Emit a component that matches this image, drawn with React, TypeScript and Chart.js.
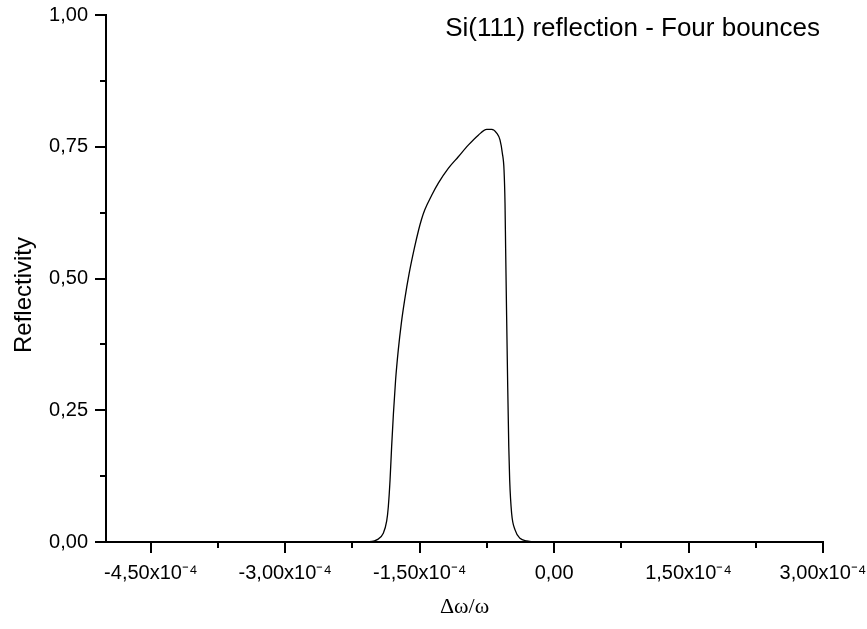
import React, { useEffect, useRef } from "react";
import { Chart, registerables } from "chart.js";

Chart.register(...registerables);

// Δω/ω values
const deltaOmega: number[] = [
  -5.0e-4, -2.6e-4, -2.2e-4, -2.032e-4, -1.98e-4, -1.906e-4, -1.868e-4,
  -1.85e-4, -1.8305e-4, -1.813e-4, -1.793e-4, -1.769e-4, -1.739e-4, -1.705e-4,
  -1.668e-4, -1.617e-4, -1.56e-4, -1.512e-4, -1.48e-4, -1.444e-4, -1.366e-4,
  -1.292e-4, -1.181e-4, -1.069e-4, -0.958e-4, -0.846e-4, -0.752e-4, -0.697e-4,
  -0.641e-4, -0.604e-4, -0.578e-4, -0.559e-4, -0.548e-4, -0.541e-4, -0.531e-4,
  -0.519e-4, -0.506e-4, -0.496e-4, -0.474e-4, -0.436e-4, -0.381e-4, -0.306e-4,
  -0.20e-4, 3.0e-4,
];
// Reflectivity values
const reflectivity: number[] = [
  0, 0, 0, 0.001, 0.004, 0.0165, 0.04,
  0.067, 0.118, 0.181, 0.244, 0.307, 0.364, 0.415,
  0.459, 0.51, 0.557, 0.592, 0.612, 0.63, 0.658,
  0.681, 0.709, 0.731, 0.753, 0.772, 0.783, 0.783,
  0.776, 0.763, 0.738, 0.706, 0.643, 0.557, 0.44,
  0.307, 0.181, 0.118, 0.054, 0.023, 0.007, 0.002,
  0, 0,
];

const xMajorTicks: number[] = [-4.5e-4, -3.0e-4, -1.5e-4, 0, 1.5e-4, 3.0e-4];
const xMinorTicks: number[] = [-3.75e-4, -2.25e-4, -0.75e-4, 0.75e-4, 2.25e-4];
const yMajorTicks: number[] = [0, 0.25, 0.5, 0.75, 1.0];
const yMinorTicks: number[] = [0.125, 0.375, 0.625, 0.875];

const titleText = "Si(111) reflection - Four bounces";
const yAxisTitle = "Reflectivity";
const xAxisTitle = "Δω/ω";

const SANS = "'Liberation Sans', Arial, sans-serif";
const SERIF = "'Liberation Serif', 'Times New Roman', serif";

function fmtX(v: number): string {
  if (Math.abs(v) < 1e-12) return "0,00";
  return (v / 1e-4).toFixed(2).replace(".", ",") + "x10⁻⁴";
}
function fmtY(v: number): string {
  return v.toFixed(2).replace(".", ",");
}

const decorPlugin = {
  id: "decor",
  afterDraw(chart: any) {
    const { ctx, scales, chartArea } = chart;
    const xs = scales.x;
    const ys = scales.y;
    ctx.save();
    ctx.strokeStyle = "#000";
    ctx.lineWidth = 2;
    ctx.beginPath();
    const bottom = chartArea.bottom;
    const left = chartArea.left;
    for (const v of xMajorTicks) {
      const px = Math.round(xs.getPixelForValue(v));
      ctx.moveTo(px, bottom);
      ctx.lineTo(px, bottom + 11);
    }
    for (const v of xMinorTicks) {
      const px = Math.round(xs.getPixelForValue(v));
      ctx.moveTo(px, bottom);
      ctx.lineTo(px, bottom + 6);
    }
    for (const v of yMajorTicks) {
      const py = Math.round(ys.getPixelForValue(v));
      ctx.moveTo(left, py);
      ctx.lineTo(left - 11, py);
    }
    for (const v of yMinorTicks) {
      const py = Math.round(ys.getPixelForValue(v));
      ctx.moveTo(left, py);
      ctx.lineTo(left - 6, py);
    }
    ctx.stroke();

    ctx.fillStyle = "#000";
    // title inside plot
    ctx.font = `26px ${SANS}`;
    ctx.textAlign = "right";
    ctx.textBaseline = "alphabetic";
    ctx.fillText(titleText, 820, 36);

    // y axis title
    ctx.save();
    ctx.translate(31, 295);
    ctx.rotate(-Math.PI / 2);
    ctx.font = `24px ${SANS}`;
    ctx.textAlign = "center";
    ctx.textBaseline = "alphabetic";
    ctx.fillText(yAxisTitle, 0, 0);
    ctx.restore();

    // x axis title
    ctx.font = `22px ${SERIF}`;
    ctx.textAlign = "center";
    ctx.textBaseline = "alphabetic";
    ctx.fillText(xAxisTitle, (chartArea.left + chartArea.right) / 2, 613);
    ctx.restore();
  },
};

export default function App() {
  const ref = useRef<HTMLCanvasElement | null>(null);
  useEffect(() => {
    if (!ref.current) return;
    const chart = new Chart(ref.current, {
      type: "line",
      data: {
        datasets: [
          {
            data: deltaOmega.map((x, i) => ({ x, y: reflectivity[i] })),
            borderColor: "#000",
            borderWidth: 1.3,
            pointRadius: 0,
            cubicInterpolationMode: "monotone",
            fill: false,
          },
        ],
      },
      options: {
        animation: false,
        responsive: false,
        layout: { padding: { top: 15, right: 44, left: 0, bottom: 0 } },
        plugins: { legend: { display: false }, tooltip: { enabled: false }, title: { display: false } },
        scales: {
          x: {
            type: "linear",
            min: -5e-4,
            max: 3e-4,
            afterBuildTicks: (s: any) => {
              s.ticks = xMajorTicks.map((v) => ({ value: v }));
            },
            afterFit: (s: any) => {
              s.height = 87;
              s.paddingLeft = 0;
              s.paddingRight = 0;
            },
            grid: { display: true, drawOnChartArea: false, drawTicks: false },
            border: { display: true, color: "#000", width: 2 },
            ticks: {
              color: "#000",
              font: { family: SANS, size: 20 },
              padding: 19,
              maxRotation: 0,
              autoSkip: false,
              callback: (v: any) => fmtX(Number(v)),
            },
          },
          y: {
            type: "linear",
            min: 0,
            max: 1,
            afterBuildTicks: (s: any) => {
              s.ticks = yMajorTicks.map((v) => ({ value: v }));
            },
            afterFit: (s: any) => {
              s.width = 106;
              s.paddingTop = 0;
              s.paddingBottom = 0;
            },
            grid: { display: true, drawOnChartArea: false, drawTicks: false },
            border: { display: true, color: "#000", width: 2 },
            ticks: {
              color: "#000",
              font: { family: SANS, size: 20 },
              padding: 18,
              autoSkip: false,
              callback: (v: any) => fmtY(Number(v)),
            },
          },
        },
      },
      plugins: [decorPlugin],
    } as any);
    return () => chart.destroy();
  }, []);
  return (
    <div style={{ position: "fixed", left: 0, top: 0, width: 867, height: 629, background: "#fff" }}>
      <canvas ref={ref} width={867} height={629} />
    </div>
  );
}
